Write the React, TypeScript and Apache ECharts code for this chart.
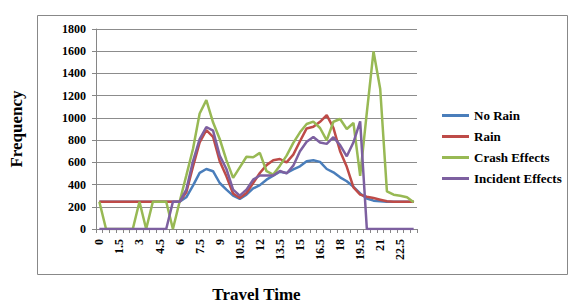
import React, { useEffect, useRef } from "react";
import * as echarts from "echarts";

const categories: string[] = Array.from({ length: 48 }, (_, i) => String(i * 0.5));

const noRain = [245, 245, 245, 245, 245, 245, 245, 245, 245, 245, 245, 245, 245,
  285, 390, 505, 540, 520, 414, 354, 300, 270, 309, 365, 395, 444, 480, 515, 504, 537, 564, 609, 618, 604, 540, 510, 465, 430, 380, 320, 275, 255, 249, 245, 245, 245, 245, 245];
const rain = [245, 245, 245, 245, 245, 245, 245, 245, 245, 245, 245, 245, 245,
  330, 560, 780, 890, 830, 610, 474, 320, 279, 324, 414, 504, 575, 618, 630, 600, 669, 790, 905, 920, 965, 1025, 910, 700, 560, 375, 309, 290, 279, 264, 249, 245, 245, 245, 245];
const crashEffects = [245, 0, 0, 0, 0, 0, 245, 0, 245, 245, 245, 0, 245,
  480, 720, 1040, 1160, 960, 810, 620, 460, 555, 650, 645, 685, 520, 490, 570, 660, 775, 870, 945, 966, 909, 797, 965, 990, 900, 954, 478, 1050, 1598, 1260, 339, 309, 300, 285, 240];
const incidentEffects = [0, 0, 0, 0, 0, 0, 0, 0, 0, 0, 0, 245, 245,
  354, 609, 810, 918, 885, 660, 540, 354, 300, 354, 444, 482, 482, 482, 522, 500, 570, 700, 785, 828, 778, 766, 826, 755, 654, 780, 969, 0, 0, 0, 0, 0, 0, 0, 0];

const seriesNames = ["No Rain", "Rain", "Crash Effects", "Incident Effects"];
const seriesData = [noRain, rain, crashEffects, incidentEffects];
const colors = ["#4A7EBB", "#BE4B48", "#98B954", "#7D60A0"];

const serif = "'Liberation Serif', 'DejaVu Serif', serif";

export default function App() {
  const ref = useRef<HTMLDivElement>(null);
  useEffect(() => {
    if (!ref.current) return;
    const chart = echarts.init(ref.current, undefined, { renderer: "svg" });
    chart.setOption({
      animation: false,
      backgroundColor: "#ffffff",
      color: colors,
      graphic: [
        {
          type: "rect",
          shape: { x: 37.5, y: 15.5, width: 530, height: 259 },
          style: { fill: "none", stroke: "#888888", lineWidth: 1 },
          silent: true,
        },
      ],
      legend: {
        orient: "vertical",
        left: 437,
        top: 104,
        itemWidth: 27,
        itemHeight: 3,
        itemGap: 8,
        icon: "rect",
        textStyle: { fontFamily: serif, fontSize: 13, fontWeight: "bold", color: "#000" },
        data: seriesNames,
      },
      grid: { left: 92, right: 158, top: 29, bottom: 79, containLabel: false },
      xAxis: {
        type: "category",
        data: categories,
        boundaryGap: true,
        name: "Travel Time",
        nameLocation: "middle",
        nameGap: 57,
        nameTextStyle: { fontFamily: serif, fontSize: 17, fontWeight: "bold", color: "#000" },
        axisLine: { lineStyle: { color: "#868686", width: 1 } },
        axisTick: { show: true, interval: 0, length: 4, lineStyle: { color: "#868686" } },
        axisLabel: {
          interval: 2,
          rotate: 90,
          margin: 10,
          fontFamily: serif,
          fontSize: 12,
          fontWeight: "bold",
          color: "#000",
        },
        splitLine: { show: false },
      },
      yAxis: {
        type: "value",
        min: 0,
        max: 1800,
        interval: 200,
        name: "Frequency",
        nameLocation: "middle",
        nameRotate: 90,
        nameGap: 71,
        nameTextStyle: { fontFamily: serif, fontSize: 17, fontWeight: "bold", color: "#000" },
        axisLine: { show: true, lineStyle: { color: "#868686", width: 1 } },
        axisTick: { show: true, length: 4, lineStyle: { color: "#868686" } },
        axisLabel: {
          margin: 10,
          fontFamily: serif,
          fontSize: 12,
          fontWeight: "bold",
          color: "#000",
          formatter: (v: number) => String(v),
        },
        splitLine: { show: true, lineStyle: { color: "#8C8C8C", width: 1 } },
      },
      series: seriesNames.map((name, k) => ({
        name,
        type: "line",
        data: seriesData[k],
        symbol: "none",
        showSymbol: false,
        lineStyle: { width: 2.5, color: colors[k] },
        itemStyle: { color: colors[k] },
      })),
    });
    return () => chart.dispose();
  }, []);
  return (
    <div
      ref={ref}
      style={{ position: "fixed", left: 0, top: 0, width: 575, height: 308, background: "#fff" }}
    />
  );
}
